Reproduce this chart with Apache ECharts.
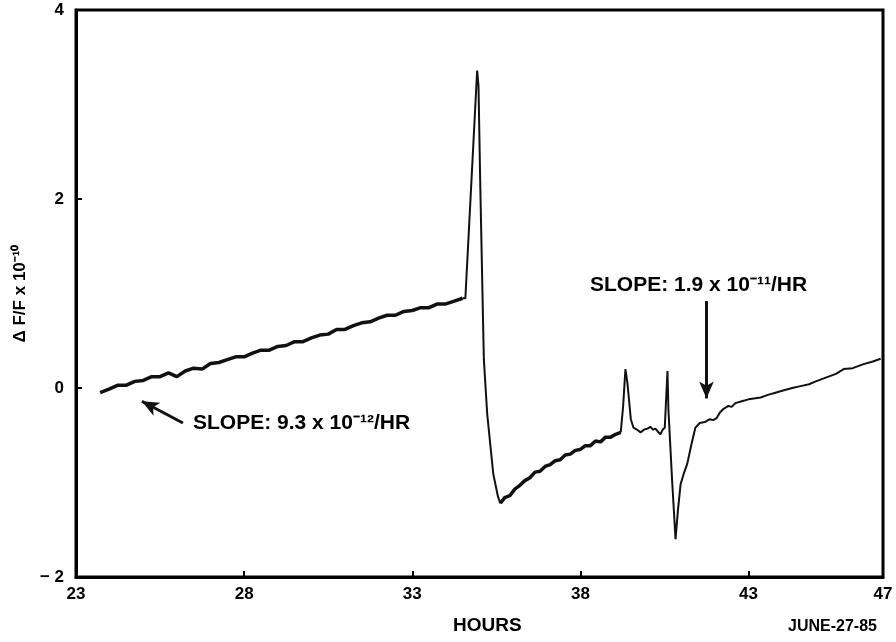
<!DOCTYPE html>
<html>
<head>
<meta charset="utf-8">
<script src="https://cdn.jsdelivr.net/npm/echarts@6/dist/echarts.min.js"></script>
<style>
html, body { margin: 0; padding: 0; background: #fff; }
#chart { width: 896px; height: 642px; }
</style>
</head>
<body>
<div id="chart"></div>
<script>
// slow drift before the event
var driftHours = [23.72, 24.0, 24.25, 24.5, 24.75, 25.0, 25.25, 25.5, 25.75, 26.0, 26.25, 26.5, 26.75,
    27.0, 27.25, 27.5, 27.75, 28.0, 28.25, 28.5, 28.75, 29.0, 29.25, 29.5, 29.75, 30.0, 30.25, 30.5,
    30.75, 31.0, 31.25, 31.5, 31.75, 32.0, 32.25, 32.5, 32.75, 33.0, 33.25, 33.5, 33.75, 34.0, 34.25, 34.5];
var driftValues = [-0.05, -0.01, 0.03, 0.03, 0.07, 0.08, 0.12, 0.12, 0.16, 0.12, 0.18, 0.21, 0.20,
    0.26, 0.27, 0.30, 0.33, 0.33, 0.37, 0.40, 0.40, 0.44, 0.45, 0.49, 0.49, 0.53, 0.56, 0.57,
    0.62, 0.62, 0.66, 0.69, 0.70, 0.74, 0.77, 0.77, 0.81, 0.82, 0.85, 0.85, 0.89, 0.89, 0.92, 0.95];

// the big spike
var spikeHours = [34.5, 34.58, 34.93, 34.97, 35.02, 35.1, 35.13, 35.23, 35.41, 35.55, 35.62];
var spikeValues = [0.95, 0.95, 3.36, 3.2, 2.2, 0.8, 0.3, -0.28, -0.91, -1.15, -1.22];

// noisy recovery
var recoveryHours = [35.62, 35.75, 35.9, 36.05, 36.2, 36.35, 36.5, 36.65, 36.8, 36.95, 37.1, 37.25,
    37.4, 37.55, 37.7, 37.85, 38.0, 38.15, 38.3, 38.45, 38.6, 38.75, 38.9, 39.05, 39.2];
var recoveryValues = [-1.22, -1.16, -1.14, -1.07, -1.03, -0.98, -0.95, -0.89, -0.88, -0.83, -0.81, -0.77,
    -0.76, -0.71, -0.70, -0.66, -0.65, -0.61, -0.61, -0.56, -0.57, -0.52, -0.52, -0.49, -0.47];

// small peaks, dip and late drift
var tailHours = [39.2, 39.27, 39.34, 39.4, 39.5, 39.58, 39.68, 39.79, 39.9, 40.0, 40.08, 40.16, 40.23,
    40.3, 40.38, 40.45, 40.51, 40.59, 40.62, 40.73, 40.83, 40.9, 40.98, 41.08, 41.18, 41.3, 41.42,
    41.55, 41.7, 41.85, 41.95, 42.05, 42.15, 42.26, 42.4, 42.5, 42.61, 42.8, 43.0, 43.36, 43.6, 43.8,
    44.0, 44.3, 44.55, 44.8, 45.0, 45.3, 45.6, 45.83, 46.1, 46.4, 46.7, 46.93];
var tailValues = [-0.47, -0.2, 0.2, 0.05, -0.33, -0.42, -0.44, -0.47, -0.44, -0.43, -0.41, -0.44, -0.43,
    -0.46, -0.49, -0.44, -0.42, 0.18, -0.24, -0.99, -1.6, -1.3, -1.02, -0.9, -0.8, -0.6, -0.42,
    -0.37, -0.36, -0.33, -0.34, -0.32, -0.26, -0.22, -0.19, -0.20, -0.16, -0.14, -0.12, -0.10, -0.07, -0.05,
    -0.03, 0.0, 0.02, 0.04, 0.07, 0.11, 0.15, 0.20, 0.21, 0.25, 0.28, 0.31];

var xLabels = [23, 28, 33, 38, 43, 47];
var xTicks = [28, 33, 38, 43];

var FONT = 'Liberation Sans, Arial, sans-serif';

function pairs(xs, ys) {
    var out = [];
    for (var i = 0; i < xs.length; i++) {
        out.push([xs[i], ys[i]]);
    }
    return out;
}

function trace(xs, ys, width) {
    return {
        type: 'line',
        data: pairs(xs, ys),
        showSymbol: false,
        silent: true,
        lineStyle: { color: '#111', width: width },
        z: 3
    };
}

var chart = echarts.init(document.getElementById('chart'));

var tail = trace(tailHours, tailValues, 2);
// arrows pointing at the two slopes
tail.markLine = {
    silent: true,
    symbol: ['none', 'arrow'],
    symbolSize: [11, 17],
    label: { show: false },
    lineStyle: { color: '#111', width: 3, type: 'solid' },
    data: [
        [{ coord: [26.18, -0.37] }, { coord: [24.96, -0.14] }],
        [{ coord: [41.75, 0.92] }, { coord: [41.75, -0.11] }]
    ]
};

var option = {
    animation: false,
    backgroundColor: '#fff',
    grid: {
        left: 76,
        right: 13,
        top: 10,
        bottom: 65,
        show: true,
        borderColor: '#000',
        borderWidth: 3
    },
    xAxis: {
        type: 'value',
        min: 23,
        max: 47,
        axisLine: { onZero: false, lineStyle: { color: '#000', width: 3 } },
        axisTick: { inside: true, length: 6, customValues: xTicks, lineStyle: { color: '#000', width: 2 } },
        axisLabel: {
            customValues: xLabels,
            margin: 9,
            color: '#000',
            fontFamily: FONT,
            fontWeight: 'bold',
            fontSize: 17
        },
        splitLine: { show: false }
    },
    yAxis: {
        type: 'value',
        min: -2,
        max: 4,
        interval: 2,
        name: 'Δ F/F x 10⁻¹⁰',
        nameLocation: 'middle',
        nameRotate: 90,
        nameGap: 44,
        nameTextStyle: { color: '#000', fontFamily: FONT, fontWeight: 'bold', fontSize: 17 },
        axisLine: { lineStyle: { color: '#000', width: 3 } },
        axisTick: { inside: true, length: 6, lineStyle: { color: '#000', width: 2 } },
        axisLabel: {
            margin: 12,
            color: '#000',
            fontFamily: FONT,
            fontWeight: 'bold',
            fontSize: 17,
            formatter: function(v) {
                return v < 0 ? '− ' + Math.abs(v) : String(v);
            }
        },
        splitLine: { show: false }
    },
    graphic: [
        {
            type: 'text', left: 193, top: 413,
            style: { text: 'SLOPE: 9.3 x 10⁻¹²/HR', fill: '#000', font: 'bold 21px ' + FONT }
        },
        {
            type: 'text', left: 590, top: 275,
            style: { text: 'SLOPE: 1.9 x 10⁻¹¹/HR', fill: '#000', font: 'bold 21px ' + FONT }
        },
        {
            type: 'text', left: 453, top: 616,
            style: { text: 'HOURS', fill: '#000', font: 'bold 19px ' + FONT }
        },
        {
            type: 'text', left: 788, top: 619,
            style: { text: 'JUNE-27-85', fill: '#000', font: 'bold 16px ' + FONT }
        }
    ],
    series: [
        trace(driftHours, driftValues, 3.5),
        trace(spikeHours, spikeValues, 2),
        trace(recoveryHours, recoveryValues, 3.5),
        tail
    ]
};

chart.setOption(option);
</script>
</body>
</html>
